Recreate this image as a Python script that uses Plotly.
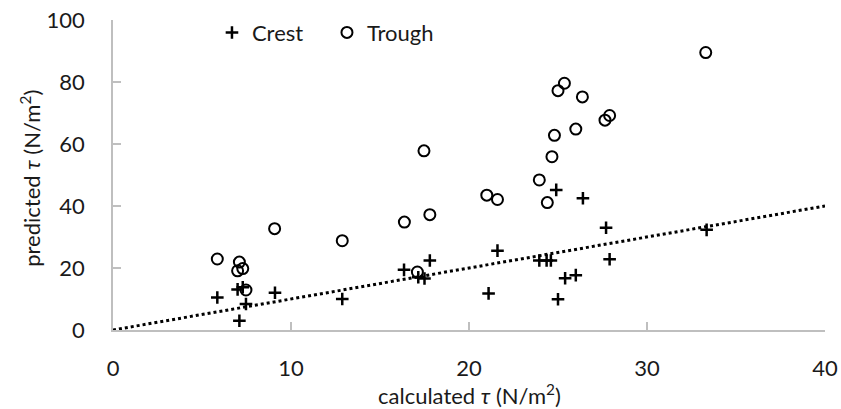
import plotly.graph_objects as go

crest_x = [5.86, 7.0, 7.29, 7.47, 7.1, 9.1, 12.88, 16.35, 17.8, 17.15, 17.5,
           24.9, 26.4, 21.6, 21.1, 23.95, 24.36, 24.6, 25.4, 26.0, 25.0, 27.7, 27.9, 33.35]
crest_y = [10.5, 13.1, 13.8, 8.4, 3.0, 12.0, 10.0, 19.4, 22.4, 17.0, 16.6,
           45.2, 42.5, 25.6, 11.8, 22.4, 22.4, 22.4, 16.7, 17.7, 9.9, 33.0, 22.8, 32.3]
trough_x = [5.86, 7.1, 7.0, 7.29, 7.47, 9.08, 17.47, 16.37, 17.8, 12.88, 17.1,
            21.0, 21.6, 23.95, 24.4, 25.36, 25.0, 26.37, 27.9, 27.64, 26.0, 24.8, 24.66, 33.3]
trough_y = [22.9, 21.9, 19.1, 19.8, 12.9, 32.7, 57.8, 34.8, 37.2, 28.8, 18.7,
            43.5, 42.1, 48.4, 41.1, 79.6, 77.2, 75.2, 69.2, 67.7, 64.8, 62.8, 55.9, 89.5]
line_x = [0, 40]
line_y = [0, 40]
x_ticks = [0, 10, 20, 30, 40]
y_ticks = [0, 20, 40, 60, 80, 100]

FONT = "Lato"
FS = 22
TXT = "#1a1a1a"
AX = "#bfbfbf"

fig = go.Figure()
fig.add_trace(go.Scatter(x=line_x, y=line_y, mode="lines", showlegend=False,
                         line=dict(color="black", width=3, dash="dot"), hoverinfo="skip"))
fig.add_trace(go.Scatter(x=crest_x, y=crest_y, mode="markers", name="Crest",
                         marker=dict(symbol="cross-thin", size=9, color="black",
                                     line=dict(color="black", width=2.5))))
fig.add_trace(go.Scatter(x=trough_x, y=trough_y, mode="markers", name="Trough",
                         marker=dict(symbol="circle-open", size=11, color="black",
                                     line=dict(color="black", width=2))))

fig.update_layout(
    width=841, height=409,
    margin=dict(l=113, r=16, t=20, b=79, autoexpand=False),
    paper_bgcolor="white", plot_bgcolor="white",
    font=dict(family=FONT, size=FS, color=TXT),
    legend=dict(orientation="h", x=0.139, y=1.027, xanchor="left", yanchor="top",
                bgcolor="rgba(0,0,0,0)", font=dict(size=FS, color=TXT),
                itemwidth=30, tracegroupgap=0, entrywidth=70, entrywidthmode="pixels"),
    xaxis=dict(range=[0, 40], tickvals=x_ticks, showgrid=False, zeroline=False,
               showline=True, linecolor=AX, linewidth=1.5, automargin=False,
               ticks="inside", ticklen=8, tickcolor=AX, tickwidth=1.5,
               ticklabelstandoff=18, tickfont=dict(size=FS, color=TXT)),
    yaxis=dict(range=[0, 100], tickvals=y_ticks, showgrid=False, zeroline=False,
               showline=True, linecolor=AX, linewidth=1.5, automargin=False,
               ticks="inside", ticklen=8, tickcolor=AX, tickwidth=1.5,
               ticklabelstandoff=22, tickfont=dict(size=FS, color=TXT)),
    annotations=[
        dict(text="calculated <i>τ</i> (N/m<sup>2</sup>)", xref="paper", yref="paper",
             x=0.5, y=-0.208, xanchor="center", yanchor="middle", showarrow=False,
             font=dict(size=FS, color=TXT)),
        dict(text="predicted <i>τ</i> (N/m<sup>2</sup>)", xref="paper", yref="paper",
             x=-0.117, y=0.49, xanchor="center", yanchor="middle", showarrow=False,
             textangle=-90, font=dict(size=FS, color=TXT)),
    ],
)

fig.write_html("out.html")
